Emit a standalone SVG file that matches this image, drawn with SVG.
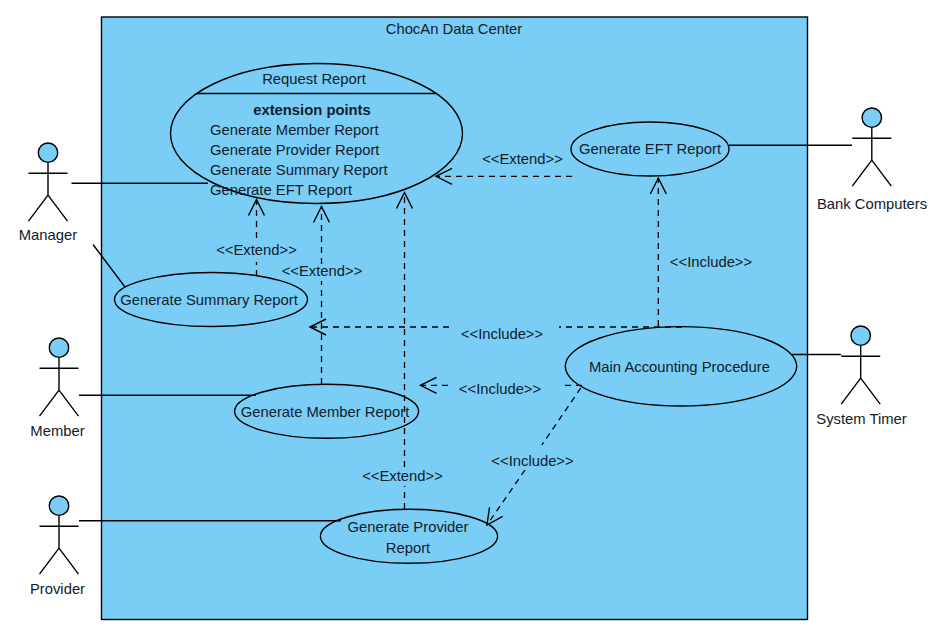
<svg xmlns="http://www.w3.org/2000/svg" width="944" height="631" viewBox="0 0 944 631">
<style>
text{font-family:"Liberation Sans",Arial,sans-serif;font-size:14.8px;fill:#10202c;text-anchor:middle}
.s{fill:none;stroke:#000;stroke-width:1.4}
.u{fill:#7acef6;stroke:#000;stroke-width:1.4}
.d{fill:none;stroke:#000;stroke-width:1.3;stroke-dasharray:6 5;marker-end:url(#open)}
.l{text-anchor:start}
</style>
<defs>
<marker id="open" markerUnits="userSpaceOnUse" markerWidth="20" markerHeight="20" refX="17" refY="10" orient="auto">
<path d="M1 2L17 10L1 18" fill="none" stroke="#000" stroke-width="1.4"/>
</marker>
<g id="stick"><circle class="u" cx="0" cy="0" r="9.7"/><path class="s" d="M0 9.7V42.5M-19.5 20.6H19.5M-19.5 68.5L0 42.5L19.5 68.5"/></g>
</defs>
<rect id="system" x="101.5" y="17" width="706" height="602.5" fill="#7acef6" stroke="#000" stroke-width="1.4"/>
<text x="454" y="33.500">ChocAn Data Center</text>
<g id="request-report"><ellipse class="u" cx="316.500" cy="133.500" rx="146" ry="70"/><path class="s" d="M197 93.500H437"/>
<text x="314" y="84">Request Report</text><text x="312" y="115" font-weight="bold">extension points</text>
<text class="l" x="210" y="135">Generate Member Report</text><text class="l" x="210" y="155">Generate Provider Report</text><text class="l" x="210" y="175">Generate Summary Report</text><text class="l" x="210" y="195">Generate EFT Report</text></g>
<g id="generate-eft"><ellipse class="u" cx="650" cy="149" rx="79" ry="27"/><text x="650" y="154">Generate EFT Report</text></g>
<g id="generate-summary"><ellipse class="u" cx="211" cy="299.500" rx="96.500" ry="27"/><text x="209" y="305">Generate Summary Report</text></g>
<g id="generate-member"><ellipse class="u" cx="326.600" cy="411.300" rx="92" ry="27"/><text x="325" y="417">Generate Member Report</text></g>
<g id="generate-provider"><ellipse class="u" cx="409" cy="536.300" rx="88.600" ry="27"/><text x="408" y="532">Generate Provider</text><text x="408" y="553">Report</text></g>
<g id="main-accounting"><ellipse class="u" cx="681" cy="366.300" rx="115.700" ry="39.700"/><text x="679.500" y="372">Main Accounting Procedure</text></g>
<g id="manager"><use href="#stick" x="48" y="152.700"/><text x="48" y="240">Manager</text></g>
<g id="member"><use href="#stick" x="59" y="347.700"/><text x="57.500" y="436">Member</text></g>
<g id="provider"><use href="#stick" x="59" y="505.700"/><text x="57.500" y="594">Provider</text></g>
<g id="bank-computers"><use href="#stick" x="871.800" y="117.700"/><text x="872" y="209">Bank Computers</text></g>
<g id="system-timer"><use href="#stick" x="860.700" y="335.700"/><text x="861.500" y="424">System Timer</text></g>
<g id="connectors">
<path class="s" d="M71.500 183.300H208M93 244.500L125 287M79 395.300H256M79 520.700H341M729 145.300H852M792 354.500H841"/>
<path class="d" d="M256.500 276V262M256.500 238V199.500"/>
<path class="d" d="M321.500 384V281M321.500 264V206.500"/>
<path class="d" d="M404.500 509V486M404.500 467V192.500"/>
<path class="d" d="M572 176.300H436"/>
<path class="d" d="M658.300 326V178"/>
<path class="d" d="M682 327H559M449 327H310"/>
<path class="d" d="M582 385.300H562M448 385.300H420.500"/>
<path class="d" d="M580.800 388L541.800 445M525 470L487 525"/>
</g>
<g id="labels">
<text x="256.500" y="254.500">&lt;&lt;Extend&gt;&gt;</text><text x="322" y="276">&lt;&lt;Extend&gt;&gt;</text><text x="402.500" y="480.500">&lt;&lt;Extend&gt;&gt;</text><text x="522.500" y="163.500">&lt;&lt;Extend&gt;&gt;</text>
<text x="711" y="267">&lt;&lt;Include&gt;&gt;</text><text x="502" y="338.500">&lt;&lt;Include&gt;&gt;</text><text x="500" y="393.500">&lt;&lt;Include&gt;&gt;</text><text x="532.500" y="465.500">&lt;&lt;Include&gt;&gt;</text>
</g>
</svg>
